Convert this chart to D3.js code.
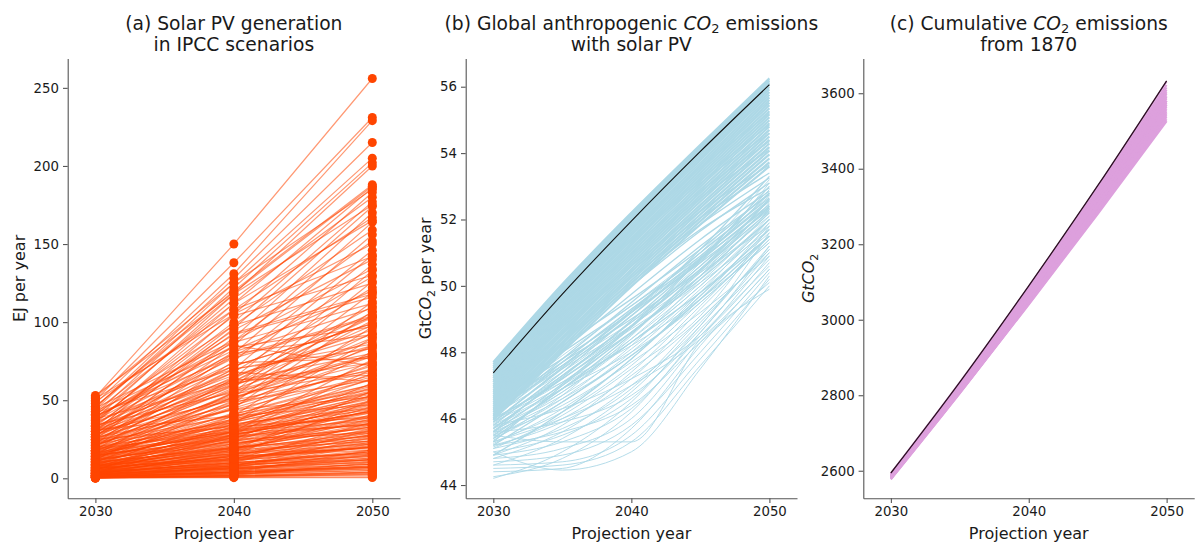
<!DOCTYPE html>
<html><head><meta charset="utf-8">
<script src="https://cdn.jsdelivr.net/npm/d3@7"></script>
<style>
body{margin:0;background:#fff;}
text{font-family:"DejaVu Sans",sans-serif;}
</style></head><body>
<svg id="chart" width="1198" height="542"></svg>
<script>
// ---------- Panel (a): Solar PV generation (EJ/yr) per scenario ----------
const pvYears = [2030, 2040, 2050];
const pv2030 = [52,50,48,45,44,41,38,46,35,30,40,33,28,25,36,22,31,20,27,18,24,34,15,21,29,12,26,16,38,10,23,14,
  20,17,30,8,25,12,35,5,22,42,15,28,9,38,19,33,6,24,13,37,3,21,30,11,27,7,18,32,4,14,
  10,23,2,16,22,6,26,12,1,20,8,31,4,15,18,9,14,3,13,25,6,19,2,11,17,5,12,1,8,15,4,10,0.5,7,9,3,8,1,6,5,6,2,5,0.5,4,3,4,1,2,3,0.5,2,1,1,0.5,0.5,0.5,0.3,0.2,
  34,40,45,51,43,46,49,52,37,30,41,27,53,39,33,
  0.1,1,2,3,4,5,6,7,9,11,13,15,17,18,20,21,23,25,28,31,0.2,1.5,2.5,3.5,6.5,8.5,10.5,12.5,14.5,16.5,
  0.3,0.8,1.2,1.8,2.2,2.8,3.2,3.8,4.5,5.5,6,7.5,8,9.5,11,12,13.5,14,16,18,19.5,22,24,26,28,30,33,36,40,43,
  0.4,0.9,1.4,2.1,2.6,3.3,4.1,4.8,5.2,6.3,7.1,8.2,9.1,10.2,11.5,12.8,14.2,15.5,17.2,19,1.1,2.3,3.6,5.8,7.8,9.8,0.7,1.7,4.4,6.8];
const pv2040 = [150,138,131,128,125,122,118,120,112,105,115,100,96,90,108,85,98,80,88,75,70,95,64,58,78,55,68,52,92,48,62,45,
  60,55,72,40,65,50,80,35,57,70,46,70,38,62,52,74,30,61,42,85,28,54,50,36,63,33,49,68,25,40,
  30,40,18,38,36,26,44,33,15,34,27,40,20,35,32,28,30,17,31,33,22,30,12,27,29,19,24,10,23,25,15,20,8,20,18,13,16,7,14,16,14,9,12,5,10,8,9,6,7,6,4,5,4,3,2,1.5,1.5,0.8,0.4,
  55,82,88,105,112,118,108,125,104,93,98,81,119,87,77,
  2,4,8,11,14,18,21,24,26,29,32,37,41,45,48,51,53,59,62,64,3,5,7,10,13,17,19,22,26,28,
  1.5,3,4.5,6,7.5,9,11,12.5,14,16,18,19,22,24,26,28,30,33,36,38,41,44,47,52,56,60,66,72,78,84,
  0.8,2.5,3.5,5.5,6.5,8.5,9.5,11.5,13,15,17,19.5,21,23.5,25,27.5,29.5,31,34,37,4,6.5,10,12,15.5,20,1.2,3.8,8,12.5];
const pv2050 = [256,231,229,215,205,202,200,188,186,183,180,177,174,170,167,164,159,156,152,146,143,140,137,133,129,126,122,119,116,113,110,107,
  104,101,99,97,95,93,92,90,88,86,85,83,81,80,79,77,76,74,73,72,70,69,68,67,66,64,63,62,61,60,
  58,57,56,55,54,53,52,51,50,49,48,47,46,45,44,43,42,41,40,39,38,37,36,35,34,33,32,31,30,29,28,27,26,25,24,23,22,21,20,19,18,17,16,15,14,13,12,11,10,9,8,7,6,5,4,3,2,1,0.5,
  78,120,134,150,165,175,142,185,130,118,125,109,187,112,103,
  10,18,22,27,32,38,44,50,35,46,53,59,65,72,78,84,90,98,103,106,6,9,12,16,20,24,29,33,39,43,
  4,7,9,12,15,17,20,23,26,29,31,34,37,40,43,47,50,53,56,60,63,66,70,74,79,85,92,99,104,97,
  2.5,5,7.5,10.5,13,15.5,18,21,24,27.5,30,33,36.5,39,42,45,48.5,52,55,58,8,12,17,22,28,35,3.5,7,14,20];
const pvTicks = [0, 50, 100, 150, 200, 250];

// ---------- Panel (b): global CO2 emissions (GtCO2/yr) ----------
const co2Years = [2030, 2035, 2040, 2045, 2050];
const co2Baseline = [47.38, 49.75, 51.95, 54.05, 56.06];
const co2Core = [
  [47.70,50.05,52.20,54.25,56.25],[47.64,49.99,52.14,54.19,56.19],[47.58,49.93,52.08,54.13,56.13],
  [47.52,49.86,52.01,54.06,56.06],[47.46,49.80,51.95,54.00,55.99],[47.40,49.73,51.88,53.93,55.92],
  [47.34,49.67,51.81,53.86,55.84],[47.28,49.60,51.74,53.79,55.76],[47.22,49.53,51.67,53.71,55.68],
  [47.16,49.46,51.60,53.63,55.60],[47.10,49.39,51.53,53.56,55.52],[47.04,49.32,51.45,53.48,55.44],
  [46.98,49.25,51.38,53.40,55.35],[46.92,49.18,51.30,53.32,55.26],[46.86,49.11,51.23,53.24,55.17],
  [46.80,49.04,51.15,53.16,55.08],[46.74,48.97,51.07,53.07,54.99],[46.68,48.90,50.99,52.99,54.90],
  [46.62,48.83,50.91,52.90,54.80],[46.56,48.76,50.83,52.81,54.70],[46.50,48.68,50.75,52.72,54.60],
  [46.44,48.61,50.67,52.63,54.50],[46.38,48.54,50.59,52.54,54.40],[46.32,48.46,50.50,52.44,54.29],
  [46.26,48.39,50.42,52.35,54.18],[46.20,48.31,50.33,52.25,54.07],[46.14,48.24,50.25,52.15,53.96],
  [46.08,48.16,50.16,52.05,53.84],[46.02,48.08,50.07,51.95,53.72],[45.96,48.00,49.98,51.85,53.60]
];
const co2Mid = [
  [47.55,49.70,51.70,53.55,55.20],[47.35,49.45,51.35,53.10,54.60],[47.15,49.15,50.95,52.65,54.10],
  [46.95,48.85,50.60,52.25,53.65],[46.75,48.55,50.25,51.85,53.25],[47.45,49.55,51.45,53.20,54.85],
  [47.25,49.30,51.15,52.85,54.35],[46.85,48.75,50.45,52.05,53.40],[46.45,48.30,50.00,51.65,53.10],
  [46.65,48.40,50.10,51.70,52.95],[46.30,48.05,49.75,51.40,52.85],[46.10,47.80,49.50,51.20,52.75],
  [45.90,47.55,49.25,51.00,52.65],[45.80,47.40,49.10,50.85,52.55],[45.70,47.25,48.95,50.75,52.45],
  [45.60,47.05,48.75,50.60,52.35],[45.50,46.90,48.55,50.45,52.25],[46.20,47.60,49.20,51.10,53.30],
  [46.00,47.20,48.80,50.80,53.00],[46.3,47.7,49.0,50.5,52.4],[45.7,47.2,48.6,50.2,52.0],
  [46.5,47.8,49.2,50.7,52.3],[45.4,46.9,48.3,49.8,51.5],[45.9,47.5,49.1,50.8,52.8],
  [46.6,48.0,49.4,50.9,52.6],[45.2,46.5,47.9,49.6,51.5],[46.8,48.2,49.6,51.1,52.8],
  [45.6,47.3,48.8,50.5,52.6],[44.9,46.2,47.8,49.7,51.7],[46.0,47.7,49.3,50.8,52.4],
  [45.3,47.0,48.6,50.3,52.2]
];
const co2Spread = [
  [45.9,47.0,48.4,50.1,52.1],[45.4,46.5,48.0,49.8,51.6],[45.3,46.2,47.6,49.5,51.3],
  [45.2,45.9,47.2,49.3,51.4],[45.1,45.7,46.9,49.0,51.0],[45.0,45.5,46.6,48.7,50.8],
  [44.9,45.3,46.3,48.5,50.6],[44.8,45.1,46.0,48.4,50.9],[44.7,44.9,45.8,48.0,50.4],
  [44.6,44.7,45.5,47.8,50.2],[44.5,44.6,45.3,47.6,50.0],[44.4,44.5,45.7,48.2,50.5],
  [44.25,44.8,46.2,48.6,51.0],[44.2,45.0,46.5,48.8,51.2],[45.0,44.45,45.0,47.5,50.3],
  [45.5,45.3,45.3,48.3,49.9],[45.6,46.6,47.9,49.6,51.9],[45.7,46.8,48.3,50.0,52.0],
  [44.9,45.8,47.4,49.4,51.5],[45.3,46.0,47.0,48.4,50.5],[45.2,45.6,46.4,48.3,50.1],
  [44.6,45.4,46.8,48.9,51.1],[45.8,46.3,47.2,48.5,50.7],[45.6,45.9,46.7,48.6,51.2],
  [45.5,46.4,47.7,49.2,50.9],[45.1,46.1,47.5,49.1,51.8],[44.8,45.6,47.0,48.8,51.6],
  [46.1,47.4,48.9,50.6,52.6],[45.95,47.1,48.6,50.3,52.2],[46.05,47.6,49.2,50.9,52.9],
  [45.75,46.9,48.3,50.0,51.9],[45.85,47.3,48.9,50.7,53.1],[46.15,47.7,49.3,51.0,53.2],
  [45.65,46.7,48.1,49.9,51.8],[45.55,46.8,48.4,50.3,52.5],[45.45,46.6,48.2,50.2,52.3],
  [46.25,47.5,48.8,50.3,52.0],[45.35,46.7,48.5,50.4,52.1],[45.9,47.3,48.7,50.1,51.7],
  [46.35,47.9,49.4,51.0,52.7],[45.25,46.3,47.8,49.8,52.0],[45.8,46.9,48.0,49.5,51.4],
  [46.4,47.6,48.9,50.4,51.8],[45.15,46.0,47.3,49.0,51.1],[46.0,47.1,48.2,49.6,51.3]
];
const co2Ticks = [44, 46, 48, 50, 52, 54, 56];

// ---------- Panel (c): cumulative CO2 since 1870 (GtCO2) ----------
const cumYears = [2030, 2035, 2040, 2045, 2050];
const cumBaseline = [2594, 2835, 3090, 3355, 3633];
const cumScenarios = [
  [2593,2834,3088,3353,3631],[2592,2831,3084,3347,3622],[2591,2829,3081,3342,3615],
  [2590,2827,3078,3338,3609],[2589,2826,3075,3334,3603],[2588,2824,3072,3330,3598],
  [2587,2822,3069,3325,3592],[2587,2821,3066,3321,3586],[2586,2819,3064,3317,3580],
  [2585,2818,3061,3313,3575],[2584,2816,3058,3309,3569],[2583,2814,3056,3305,3564],
  [2582,2813,3053,3301,3558],[2582,2811,3051,3297,3552],[2581,2810,3049,3294,3547],
  [2580,2808,3046,3290,3542],[2579,2807,3044,3287,3537],[2578,2806,3042,3283,3531],
  [2577,2805,3040,3280,3526],[2590,2825,3070,3320,3580],[2585,2820,3065,3318,3590],
  [2580,2812,3055,3305,3570]
];
const cumTicks = [2600, 2800, 3000, 3200, 3400, 3600];
const xTicks = [2030, 2040, 2050];

// ---------- layout ----------
const svg = d3.select("#chart");
const plotTop = 58.5, plotBottom = 498.3;
const spine = "#555", txt = "#1a1a1a";

function makePanel(x0, x1, yDomain, yTicks) {
  const x = d3.scaleLinear().domain([2028, 2052]).range([x0, x1]);
  const y = d3.scaleLinear().domain(yDomain).range([plotBottom, plotTop]);
  const g = svg.append("g");
  const marks = g.append("g");
  const xa = g.append("g").attr("transform", `translate(0,${plotBottom})`)
    .call(d3.axisBottom(x).tickValues(xTicks).tickFormat(d3.format("d")).tickSize(4.7).tickSizeOuter(0).tickPadding(4));
  const ya = g.append("g").attr("transform", `translate(${x0},0)`)
    .call(d3.axisLeft(y).tickValues(yTicks).tickFormat(d3.format("d")).tickSize(4.7).tickSizeOuter(0).tickPadding(4));
  [xa, ya].forEach(a => {
    a.select(".domain").attr("stroke", spine).attr("stroke-width", 1.1);
    a.selectAll(".tick line").attr("stroke", spine).attr("stroke-width", 1.1);
    a.selectAll(".tick text").attr("fill", txt).style("font-size", "13.3px").style("font-family", "DejaVu Sans");
  });
  g.append("text").attr("x", (x0 + x1) / 2).attr("y", 538.5).attr("text-anchor", "middle")
    .attr("fill", txt).style("font-size", "16px").text("Projection year");
  return {x, y, g, marks, cx: (x0 + x1) / 2};
}

function title(p, parts1, line2) {
  const t = p.g.append("text").attr("x", p.cx).attr("y", 29.8).attr("text-anchor", "middle")
    .attr("fill", txt).style("font-size", "18.7px");
  parts1.forEach(s => {
    const ts = t.append("tspan").text(s.t);
    if (s.it) ts.style("font-style", "italic");
    if (s.sub) ts.style("font-size", "13px").attr("dy", 3.5);
    if (s.up) ts.attr("dy", -3.5);
  });
  p.g.append("text").attr("x", p.cx).attr("y", 51.3).attr("text-anchor", "middle")
    .attr("fill", txt).style("font-size", "18.7px").text(line2);
}

function ylabel(p, xpos, parts) {
  const t = p.g.append("text").attr("transform", `translate(${xpos},${(plotTop + plotBottom) / 2}) rotate(-90)`)
    .attr("text-anchor", "middle").attr("fill", txt).style("font-size", "16px");
  parts.forEach(s => {
    const ts = t.append("tspan").text(s.t);
    if (s.it) ts.style("font-style", "italic");
    if (s.sub) ts.style("font-size", "11px").attr("dy", 3.5);
    if (s.up) ts.attr("dy", -3.5);
  });
}

// ---------- Panel (a) ----------
const pa = makePanel(67.7, 400, [-12.8, 268.8], pvTicks);
const nPV = Math.min(pv2030.length, pv2040.length, pv2050.length);
const pvRows = d3.range(nPV).map(i => [pv2030[i], pv2040[i], pv2050[i]]);
const lineA = d3.line().x((d, i) => pa.x(pvYears[i])).y(d => pa.y(d));
pa.marks.selectAll("path.pv").data(pvRows).join("path").attr("class", "pv")
  .attr("d", lineA).attr("fill", "none").attr("stroke", "#FF4500").attr("stroke-width", 1.2).attr("stroke-opacity", 0.55);
const pvDots = pvRows.flatMap(r => r.map((v, i) => ({yr: pvYears[i], v})));
pa.marks.selectAll("circle").data(pvDots).join("circle")
  .attr("cx", d => pa.x(d.yr)).attr("cy", d => pa.y(d.v)).attr("r", 4.5).attr("fill", "#FF4500");
title(pa, [{t: "(a) Solar PV generation"}], "in IPCC scenarios");
ylabel(pa, 24.5, [{t: "EJ per year"}]);

// ---------- Panel (b) ----------
const pb = makePanel(465.7, 797, [43.6, 56.85], co2Ticks);
const lineB = d3.line().x((d, i) => pb.x(co2Years[i])).y(d => pb.y(d)).curve(d3.curveMonotoneX);
pb.marks.selectAll("path.sp").data(co2Spread).join("path").attr("class", "sp")
  .attr("d", lineB).attr("fill", "none").attr("stroke", "#ADD8E6").attr("stroke-width", 0.9);
pb.marks.selectAll("path.mid").data(co2Mid).join("path").attr("class", "mid")
  .attr("d", lineB).attr("fill", "none").attr("stroke", "#ADD8E6").attr("stroke-width", 1.3);
pb.marks.selectAll("path.core").data(co2Core).join("path").attr("class", "core")
  .attr("d", lineB).attr("fill", "none").attr("stroke", "#ADD8E6").attr("stroke-width", 2.2);
pb.marks.append("path").datum(co2Baseline).attr("d", lineB).attr("fill", "none")
  .attr("stroke", "#111").attr("stroke-width", 1.1);
title(pb, [{t: "(b) Global anthropogenic "}, {t: "CO", it: true}, {t: "2", sub: true}, {t: " emissions", up: true}], "with solar PV");
ylabel(pb, 431, [{t: "Gt"}, {t: "CO", it: true}, {t: "2", sub: true}, {t: " per year", up: true}]);

// ---------- Panel (c) ----------
const pc = makePanel(863.3, 1194.2, [2527, 3692], cumTicks);
const lineC = d3.line().x((d, i) => pc.x(cumYears[i])).y(d => pc.y(d)).curve(d3.curveMonotoneX);
pc.marks.selectAll("path.cum").data(cumScenarios).join("path").attr("class", "cum")
  .attr("d", lineC).attr("fill", "none").attr("stroke", "#DDA0DD").attr("stroke-width", 2);
pc.marks.append("path").datum(cumBaseline).attr("d", lineC).attr("fill", "none")
  .attr("stroke", "#2a1020").attr("stroke-width", 1.3);
title(pc, [{t: "(c) Cumulative "}, {t: "CO", it: true}, {t: "2", sub: true}, {t: " emissions", up: true}], "from 1870");
ylabel(pc, 814, [{t: "GtCO", it: true}, {t: "2", sub: true}]);
</script>
</body></html>
